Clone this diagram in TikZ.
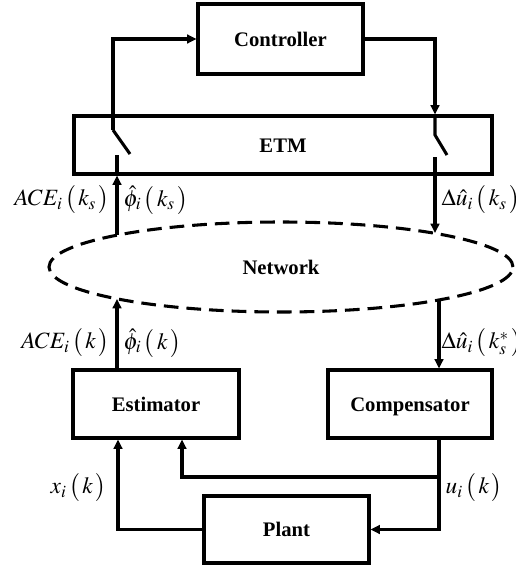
\documentclass[tikz,border=0pt]{standalone}
\usepackage{mathptmx}
\usepackage{fontspec}
\setmainfont{Liberation Serif}
\usetikzlibrary{arrows.meta,shapes.geometric}

\newcommand{\sigarg}[1]{\,\mathopen{\bigl(}\mkern2mu#1\mkern2mu\mathclose{\bigr)}}

\tikzset{
  blockbox/.style={draw=black, line width=2.3pt, fill=white, font=\fontsize{15.5}{18}\selectfont\bfseries, inner sep=0pt, text height=10.5pt, text depth=0pt},
  link/.style={line width=2.3pt},
  sig/.style={font=\fontsize{17.5}{20}\selectfont, inner sep=1pt}
}

\begin{document}
\begin{tikzpicture}[x=0.75pt,y=-0.75pt,>={Triangle[length=7pt,width=6.5pt]}]
  \useasboundingbox (0,0) rectangle (515,571);

  % Blocks
  \node[blockbox, minimum width=123.75pt, minimum height=52.5pt] (ctrl) at (280.5,39) {Controller};
  \node[blockbox, minimum width=313.5pt, minimum height=43.5pt] (etm) at (283,145) {ETM};
  \node[ellipse, draw=black, line width=2.3pt, dash pattern=on 11pt off 6pt, minimum width=348pt, minimum height=67.5pt, inner sep=0pt, font=\fontsize{15.5}{18}\selectfont\bfseries] (net) at (281,267) {Network};
  \node[blockbox, minimum width=124.5pt, minimum height=51pt] (est) at (156,404) {Estimator};
  \node[blockbox, minimum width=123pt, minimum height=51pt] (comp) at (410,404) {Compensator};
  \node[blockbox, minimum width=123.75pt, minimum height=50.25pt] (plant) at (286.5,529.5) {Plant};

  % Switch points
  \coordinate (swL) at (113,130);
  \coordinate (swLb) at (117,155);
  \coordinate (swR) at (435,135);
  \coordinate (swRb) at (435,157);
  \coordinate (netUL) at (117,235);
  \coordinate (netUR) at (435,233);
  \coordinate (netLL) at (117,299);
  \coordinate (netLR) at (439,301);
  \coordinate (uk) at (439,477);

  % ETM switches
  \draw[link] (swL) -- (130,154);
  \draw[link] (swLb) -- (swLb |- etm.south);
  \draw[link] (swR |- etm.north) -- (swR) -- (447,155);
  \draw[link] (swRb) -- (swRb |- etm.south);

  % Loop through the controller
  \draw[link,->] (swL) |- (ctrl.west);
  \draw[link,->] (ctrl.east) -| (swR |- etm.north);

  % Network links
  \draw[link,->] (netUL) -- (netUL |- etm.south);
  \draw[link,->] (swRb |- etm.south) -- (netUR);
  \draw[link,->] (netLL |- est.north) -- (netLL);
  \draw[link,->] (netLR) -- (netLR |- comp.north);

  % Plant loop
  \draw[link,->] (plant.west) -| ([xshift=-28.5pt]est.south);
  \draw[link,->] (uk |- comp.south) |- (plant.east);
  \draw[link,->] (uk) -| ([xshift=19.5pt]est.south);

  % Signals
  \node[sig, anchor=east] (aceks) at (111,200) {$ACE_i\sigarg{k_s}$};
  \node[sig, anchor=west] (phiks) at (122,200) {$\hat{\phi}_i\sigarg{k_s}$};
  \node[sig, anchor=west] (duks) at (440,200) {$\Delta\hat{u}_i\sigarg{k_s}$};
  \node[sig, anchor=east] (acek) at (111,343) {$ACE_i\sigarg{k}$};
  \node[sig, anchor=west] (phik) at (122,343) {$\hat{\phi}_i\sigarg{k}$};
  \node[sig, anchor=west] (duksst) at (440,343) {$\Delta\hat{u}_i\sigarg{k_s^*}$};
  \node[sig, anchor=east] (xk) at (108,488) {$x_i\sigarg{k}$};
  \node[sig, anchor=west] (uklab) at (444,488) {$u_i\sigarg{k}$};
\end{tikzpicture}
\end{document}
